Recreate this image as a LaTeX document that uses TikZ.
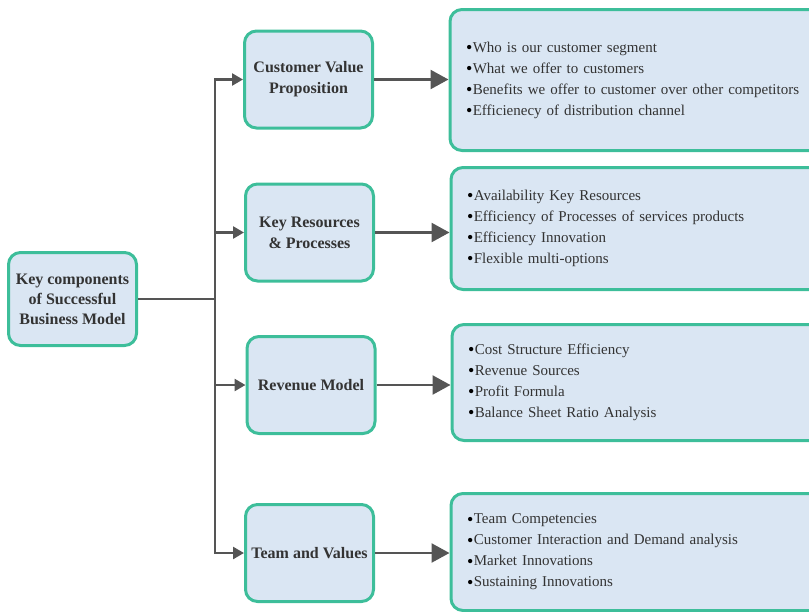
\documentclass[tikz,border=0pt]{standalone}
\usepackage{fontspec}
\setmainfont{Liberation Serif}
\usepackage{xcolor}
\usetikzlibrary{arrows.meta}

\definecolor{boxfill}{HTML}{DAE6F3}
\definecolor{boxline}{HTML}{3DBE9A}
\definecolor{wire}{HTML}{555555}
\definecolor{ink}{HTML}{333333}
\newcommand{\dotitem}{\raisebox{-1.2pt}{\color{black}\fontsize{18}{21}\selectfont\textbullet}\kern0.5pt}

\begin{document}
\begin{tikzpicture}[x=1pt, y=-1pt,
    box/.style={draw=boxline, line width=3pt, fill=boxfill, rounded corners=12pt, text=ink, align=center,
        minimum width=128pt, minimum height=97pt, font=\fontsize{16}{21}\selectfont\bfseries},
    list/.style={draw=boxline, line width=3pt, fill=boxfill, rounded corners=12pt, text=ink, align=left,
        anchor=west, text width=348pt, minimum width=380pt, font=\fontsize{15}{21}\selectfont},
    wire/.style={draw=wire, line width=2.5pt},
    smalltip/.style={wire, -{Triangle[length=11pt,width=12pt]}},
    bigtip/.style={wire, -{Triangle[length=18pt,width=19pt]}}]
    \useasboundingbox (0,0) rectangle (809,611);
    \clip (0,0) rectangle (809,611);

    \node (main) [box, minimum height=93pt, font=\fontsize{16}{20}\selectfont\bfseries] at (72.5,299)
        {Key components\\of Successful\\Business Model};
    \node (cvp) [box] at (308.5,79.5) {Customer Value\\Proposition};
    \node (krp) [box] at (309.5,232.5) {Key Resources\\\& Processes};
    \node (rev) [box] at (311,385) {Revenue Model};
    \node (team) [box] at (309.5,553) {Team and Values};

    % lists on the right run past the page edge
    \node (cvplist) [list, minimum height=141pt] at (448.5,80)
        {\dotitem Who is our customer segment\\
         \dotitem What we offer to customers\\
         \dotitem Benefits we offer to customer over other competitors\\
         \dotitem Efficienecy of distribution channel};
    \node (krplist) [list, minimum height=122pt] at (449.5,228.5)
        {\dotitem Availability Key Resources\\
         \dotitem Efficiency of Processes of services products\\
         \dotitem Efficiency Innovation\\
         \dotitem Flexible multi-options};
    \node (revlist) [list, minimum height=116pt] at (450.5,382.5)
        {\dotitem Cost Structure Efficiency\\
         \dotitem Revenue Sources\\
         \dotitem Profit Formula\\
         \dotitem Balance Sheet Ratio Analysis};
    \node (teamlist) [list, minimum height=117pt] at (449.5,552)
        {\dotitem Team Competencies\\
         \dotitem Customer Interaction and Demand analysis\\
         \dotitem Market Innovations\\
         \dotitem Sustaining Innovations};

    \coordinate (split) at (215,299);
    \draw [wire] (main.east) -- (split);
    \draw [smalltip] (split) |- (cvp.west);
    \draw [smalltip] (split) |- (krp.west);
    \draw [smalltip] (split) |- (rev.west);
    \draw [smalltip] (split) |- (team.west);

    \draw [bigtip] (cvp.east) -- (cvp.east -| cvplist.west);
    \draw [bigtip] (krp.east) -- (krp.east -| krplist.west);
    \draw [bigtip] (rev.east) -- (rev.east -| revlist.west);
    \draw [bigtip] (team.east) -- (team.east -| teamlist.west);
\end{tikzpicture}
\end{document}
